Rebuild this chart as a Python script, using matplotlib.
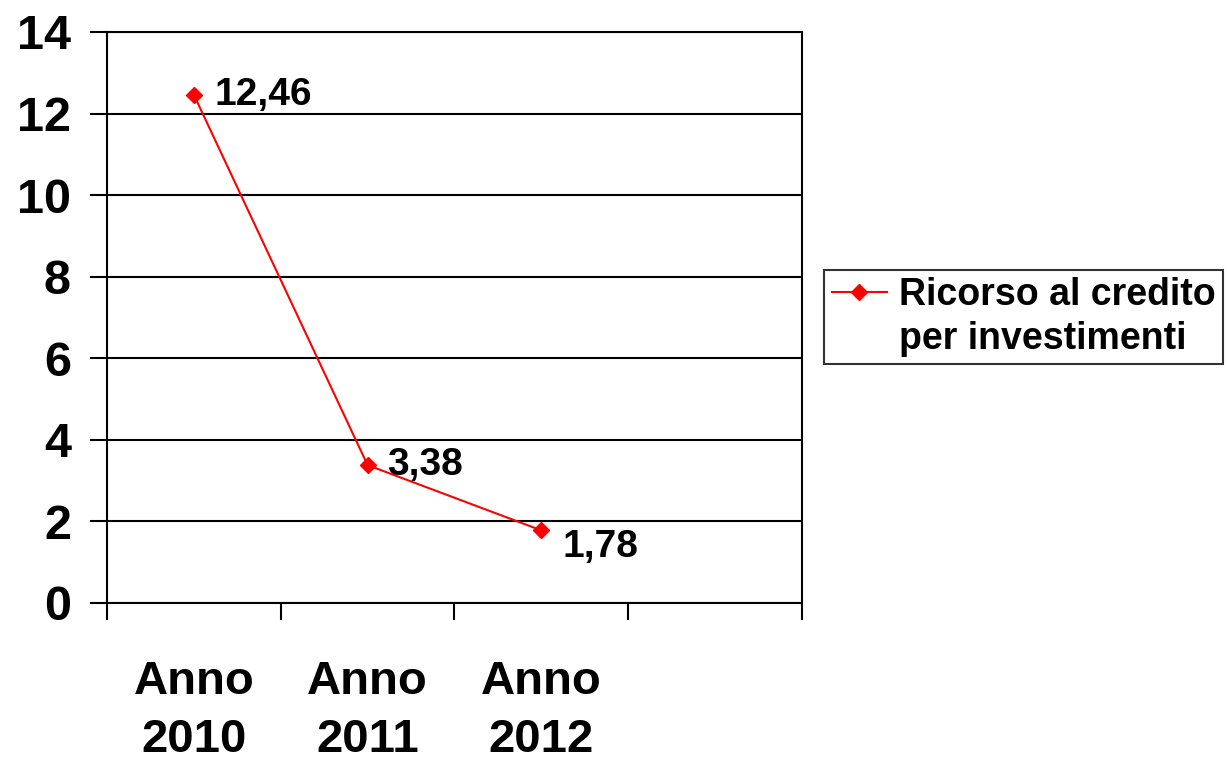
import matplotlib.pyplot as plt
from matplotlib.lines import Line2D
import numpy as np

# Ricorso al credito per investimenti
categories = ['Anno\n2010', 'Anno\n2011', 'Anno\n2012', '']
values = [12.46, 3.38, 1.78]
value_labels = ['12,46', '3,38', '1,78']
label_offsets = [(15, 0), (14, 0), (15, -12)]
series_name = ['Ricorso al credito', 'per investimenti']
y_ticks = [0, 2, 4, 6, 8, 10, 12, 14]

plt.rcParams['font.family'] = ['Liberation Sans', 'DejaVu Sans']
plt.rcParams['font.weight'] = 'bold'

fig = plt.figure(figsize=(12.27, 7.6), dpi=100)
ax = fig.add_axes([0.0872, 0.2066, 0.5664, 0.7513])

x = np.arange(len(values))
line, = ax.plot(x, values, color='#ff0000', linewidth=1.5, marker='D',
                markersize=8, markerfacecolor='#ff0000', markeredgecolor='#ff0000',
                zorder=3)

# Data labels right of each point
for xi, v, lab, off in zip(x, values, value_labels, label_offsets):
    ax.annotate(lab, (xi, v), xytext=off, textcoords='offset points',
                ha='left', va='center', fontsize=28, fontweight='bold')

ax.set_xlim(-0.5, len(categories) - 0.5)
ax.set_ylim(0, 14)
ax.set_yticks(y_ticks)
ax.tick_params(axis='y', labelsize=35, length=12, width=1.5, pad=14, direction='out')

# Category boundaries as ticks, names centred between them
ax.set_xticks(np.arange(len(categories) + 1) - 0.5)
ax.set_xticklabels([])
ax.set_xticks(np.arange(len(categories)), minor=True)
ax.set_xticklabels(categories, minor=True, fontsize=34, fontweight='bold',
                   linespacing=1.4)
ax.tick_params(axis='x', which='major', length=12, width=1.5, direction='out')
ax.tick_params(axis='x', which='minor', length=0, pad=41)

ax.grid(axis='y', color='black', linewidth=1.5, zorder=0)
for s in ax.spines.values():
    s.set_color('black')
    s.set_linewidth(1.5)

# Legend: marker beside the first line of the two-line name
blank = Line2D([], [], linestyle='none')
leg = ax.legend(handles=[line, blank], labels=series_name, loc='center left',
                bbox_to_anchor=(824 / 1227, 1 - 317 / 760),
                bbox_transform=fig.transFigure, fontsize=27, borderaxespad=0,
                frameon=True, fancybox=False, handlelength=1.47,
                borderpad=0.2, handletextpad=0.32, labelspacing=0.2)
leg.get_frame().set_edgecolor('black')
leg.get_frame().set_linewidth(1.5)

fig.savefig('out.png', dpi=100, facecolor='white')
